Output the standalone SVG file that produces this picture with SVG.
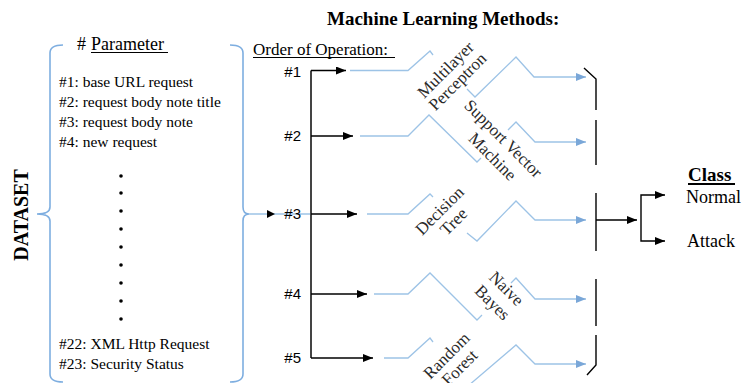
<svg xmlns="http://www.w3.org/2000/svg" width="745" height="383" viewBox="0 0 745 383">
<style>
.serif{font-family:"Liberation Serif","Times New Roman",serif;fill:#000}
.sans{font-family:"Liberation Sans",Arial,sans-serif;fill:#000;font-size:15px}
.item{font-size:15.5px}
.meth{font-family:"Liberation Serif","Times New Roman",serif;font-size:17px;fill:#2a2a2a;text-anchor:middle}
.blue{fill:none;stroke:#9dc3e6;stroke-width:1.3}
.brace{fill:none;stroke:#7eaee0;stroke-width:1.6}
.blk{fill:none;stroke:#000;stroke-width:1.4}
.ul{stroke:#000;stroke-width:1.2}
</style>
<defs>
<marker id="ab" viewBox="0 0 10 8" refX="10" refY="4" markerWidth="10" markerHeight="8" markerUnits="userSpaceOnUse" orient="auto"><path d="M0,0 L10,4 L0,8 z" fill="#000"/></marker>
<marker id="bb" viewBox="0 0 10 8" refX="10" refY="4" markerWidth="10" markerHeight="8" markerUnits="userSpaceOnUse" orient="auto"><path d="M0,0 L10,4 L0,8 z" fill="#7aa7d8"/></marker>
</defs>
<rect width="745" height="383" fill="#fff"/>

<text class="serif" x="327" y="25" font-size="19" font-weight="bold">Machine Learning Methods:</text>

<g id="dataset">
<text class="serif" font-size="20" font-weight="bold" text-anchor="middle" transform="translate(28,215) rotate(-90)">DATASET</text>
<path class="brace" d="M63,45 Q50,45 50,53 L50,207 Q50,214 37,214 Q50,214 50,221 L50,374 Q50,382 63,382"/>
<path class="brace" d="M230,45 Q243,45 243,53 L243,207 Q243,214 249,214 Q243,214 243,221 L243,374 Q243,382 230,382"/>
<text class="serif" x="77" y="50" font-size="18">#</text>
<text class="serif" x="91" y="50" font-size="18">Parameter</text>
<line class="ul" x1="91" y1="52.5" x2="168" y2="52.5"/>
<text class="serif item" x="59" y="87">#1: base URL request</text>
<text class="serif item" x="59" y="107">#2: request body note title</text>
<text class="serif item" x="59" y="127">#3: request body note</text>
<text class="serif item" x="59" y="147">#4: new request</text>
<g fill="#000">
<circle cx="121" cy="176" r="1.8"/><circle cx="121" cy="193" r="1.8"/><circle cx="121" cy="211" r="1.8"/>
<circle cx="121" cy="229" r="1.8"/><circle cx="121" cy="247" r="1.8"/><circle cx="121" cy="265" r="1.8"/>
<circle cx="121" cy="283" r="1.8"/><circle cx="121" cy="301" r="1.8"/><circle cx="121" cy="319" r="1.8"/>
</g>
<text class="serif item" x="59" y="349">#22: XML Http Request</text>
<text class="serif item" x="59" y="369">#23: Security Status</text>
</g>

<g id="order">
<text class="serif" x="253" y="55" font-size="17">Order of Operation:</text>
<line class="ul" x1="253" y1="57.5" x2="395" y2="57.5"/>
</g>

<g id="connectors">
<line class="blue" x1="249" y1="214" x2="311" y2="214"/>
<path d="M267,210 L275,214 L267,218 z" fill="#000"/>
<line x1="311" y1="70.5" x2="311" y2="358" stroke="#444" stroke-width="2"/>
<line class="blk" x1="311" y1="70.5" x2="346" y2="70.5" marker-end="url(#ab)"/>
<line class="blk" x1="311" y1="136" x2="353" y2="136" marker-end="url(#ab)"/>
<line class="blk" x1="311" y1="214" x2="357" y2="214" marker-end="url(#ab)"/>
<line class="blk" x1="311" y1="294" x2="367" y2="294" marker-end="url(#ab)"/>
<line class="blk" x1="311" y1="358" x2="373" y2="358" marker-end="url(#ab)"/>

<polyline class="blue" points="350,70.5 408,70.5 430,51 433,55"/>
<polyline class="blue" points="467,89 475,97 516,57 534,77 586,77" marker-end="url(#bb)"/>
<polyline class="blue" points="360,136 408,136 429,115 477,162 481,158"/>
<polyline class="blue" points="508,130 516,122 535,142 586,142" marker-end="url(#bb)"/>
<polyline class="blue" points="367,214 408,214 430,194 433,197"/>
<polyline class="blue" points="467,233 477,241 516,201 535,220 586,220" marker-end="url(#bb)"/>
<polyline class="blue" points="374,294 408,294 430,273 477,320 482,315"/>
<polyline class="blue" points="511,283 516,278 535,299 586,299" marker-end="url(#bb)"/>
<polyline class="blue" points="384,358 408,358 430,338 433,342"/>
<polyline class="blue" points="468,386 516,345 535,364 586,364" marker-end="url(#bb)"/>

<path class="blk" d="M584,68 L596,79 L596,110 M596,120 L596,165 M596,193 L596,251 M596,279 L596,326 M596,335 L596,365 L587,375"/>
<line class="blk" x1="596" y1="220" x2="637" y2="220" marker-end="url(#ab)"/>
<polyline class="blk" points="641,220 641,195 665,195" marker-end="url(#ab)"/>
<polyline class="blk" points="641,220 641,241 665,241" marker-end="url(#ab)"/>
</g>

<g id="op1"><text class="sans" x="301" y="77" text-anchor="end">#1</text></g>
<g id="op2"><text class="sans" x="301" y="141" text-anchor="end">#2</text></g>
<g id="op3"><text class="sans" x="301" y="219" text-anchor="end">#3</text></g>
<g id="op4"><text class="sans" x="301" y="299" text-anchor="end">#4</text></g>
<g id="op5"><text class="sans" x="301" y="363" text-anchor="end">#5</text></g>

<g id="mlp">
<text class="meth" transform="translate(446,70) rotate(-45)" y="5">Multilayer</text>
<text class="meth" transform="translate(458,82) rotate(-45)" y="5">Perceptron</text>
</g>
<g id="svm">
<text class="meth" transform="translate(503,139) rotate(45)" y="5">Support Vector</text>
<text class="meth" transform="translate(492,157) rotate(45)" y="5">Machine</text>
</g>
<g id="dt">
<text class="meth" transform="translate(440,211) rotate(-45)" y="5">Decision</text>
<text class="meth" transform="translate(454,222) rotate(-45)" y="5">Tree</text>
</g>
<g id="nb">
<text class="meth" transform="translate(506,289) rotate(45)" y="5">Naive</text>
<text class="meth" transform="translate(492,303) rotate(45)" y="5">Bayes</text>
</g>
<g id="rf">
<text class="meth" transform="translate(447,356) rotate(-45)" y="5">Random</text>
<text class="meth" transform="translate(460,368) rotate(-45)" y="5">Forest</text>
</g>

<g id="class">
<text class="serif" x="688" y="181" font-size="19" font-weight="bold">Class</text>
<line x1="688" y1="184" x2="735" y2="184" stroke="#000" stroke-width="1.8"/>
<text class="serif" x="686" y="203" font-size="18">Normal</text>
<text class="serif" x="687" y="247" font-size="18">Attack</text>
</g>
</svg>
